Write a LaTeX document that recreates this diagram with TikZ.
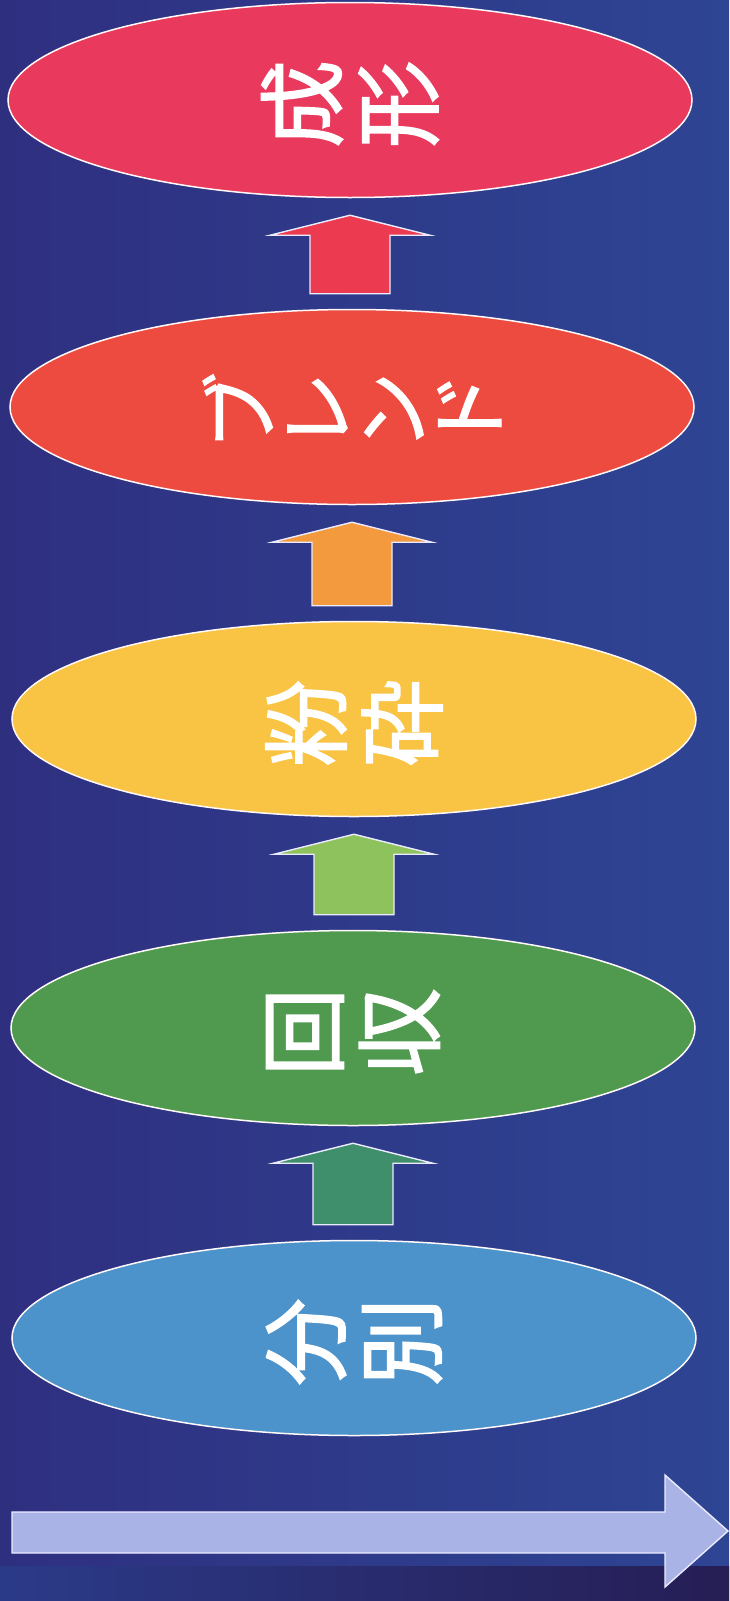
\documentclass[tikz,border=0pt]{standalone}
\usepackage{fontspec}
\newfontfamily\jp{Noto Sans CJK JP}[FakeBold=1.6]
\usetikzlibrary{shapes.geometric,calc}
\definecolor{bgL}{HTML}{2F2F80}
\definecolor{bgR}{HTML}{2E4594}
\definecolor{bandL}{HTML}{2B3A88}
\definecolor{bandR}{HTML}{261E55}
\definecolor{eA}{HTML}{E93A5E}
\definecolor{eB}{HTML}{EE4B40}
\definecolor{eC}{HTML}{F9C444}
\definecolor{eD}{HTML}{4F9A4E}
\definecolor{eE}{HTML}{4C93CB}
\definecolor{aA}{HTML}{EC3A50}
\definecolor{aB}{HTML}{F49A3E}
\definecolor{aC}{HTML}{8EC25C}
\definecolor{aD}{HTML}{3F8F6C}
\definecolor{aBot}{HTML}{AAB3E6}
\newcommand\uparr[3]{%
  \path ($(#2.south)+(0,17)$) coordinate (t-#1)
        ($(#1.north)+(0,-15)$) coordinate (bb-#1);
  \draw[blockarrow, fill=#3]
    ($(t-#1|-bb-#1)+(-40,0)$) -- ($(t-#1)+(-40,20)$) -- ($(t-#1)+(-80,20)$)
    -- (t-#1) -- ($(t-#1)+(80,20)$) -- ($(t-#1)+(40,20)$)
    -- ($(t-#1|-bb-#1)+(40,0)$) -- cycle;}
\begin{document}
\begin{tikzpicture}[x=1pt,y=-1pt,
  blob/.style={ellipse, minimum width=684pt, minimum height=195pt, inner sep=0pt,
    draw=white!90!pink, line width=1.5pt},
  lbl/.style={rotate=90, text=white, align=center, inner sep=0pt,
    font=\jp\fontsize{88}{96}\selectfont},
  lblk/.style={lbl, font=\jp\fontsize{78}{76}\selectfont},
  blockarrow/.style={draw=white!92!blue, line width=1.4pt, line join=miter}]
\useasboundingbox (0,0) rectangle (729,1601);
\fill[left color=bgL, right color=bgR] (0,0) rectangle (729,1601);
\fill[left color=bandL, right color=bandR] (0,1566) rectangle (729,1601);

\node[blob, fill=eA] (e1) at (350,100) {};
\node[blob, fill=eB] (e2) at (352,407) {};
\node[blob, fill=eC] (e3) at (354,719) {};
\node[blob, fill=eD] (e4) at (353,1028) {};
\node[blob, fill=eE] (e5) at (354,1338) {};

\node[lbl] (t1) at ($(e1)+(0,4)$) {成\\形};
\node[lblk] (t2) at ($(e2)+(0,4)$) {ブ\\レ\\ン\\ド};
\node[lbl] (t3) at ($(e3)+(0,4)$) {粉\\砕};
\node[lbl] (t4) at ($(e4)+(0,4)$) {回\\収};
\node[lbl] (t5) at ($(e5)+(0,4)$) {分\\別};

\uparr{e2}{e1}{aA}
\uparr{e3}{e2}{aB}
\uparr{e4}{e3}{aC}
\uparr{e5}{e4}{aD}

\draw[blockarrow, fill=aBot] (12,1512) -- (665,1512) -- (665,1475) -- (728,1531)
  -- (665,1587) -- (665,1553) -- (12,1553) -- cycle;
\end{tikzpicture}
\end{document}
